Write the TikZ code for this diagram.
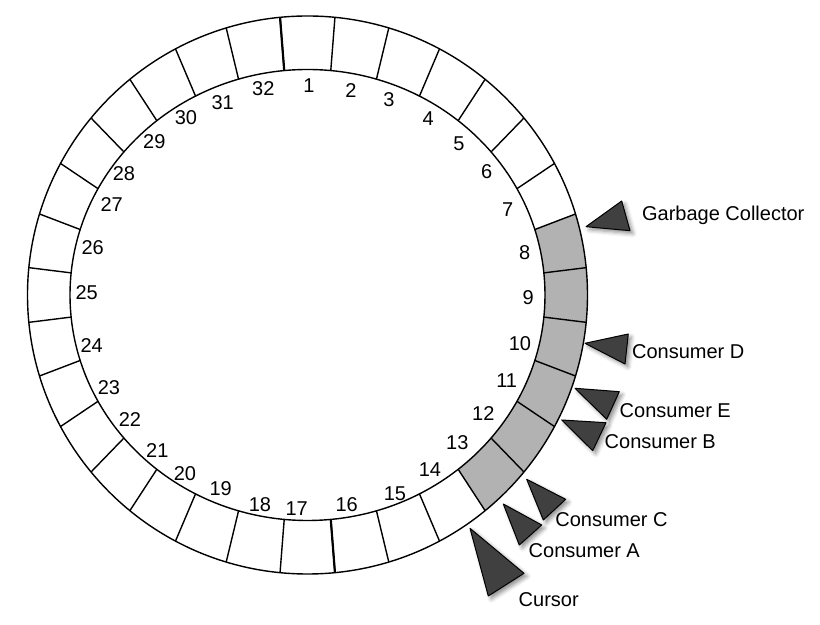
\documentclass[tikz,border=0pt]{standalone}
\usepackage{fontspec}
\setmainfont{Liberation Sans}
\usetikzlibrary{shadows.blur}

\tikzset{
	slotline/.style={line width=0.7pt},
	seamline/.style={line width=1.1pt},
	pointer/.style={fill=black!75, draw=black, line width=0.5pt, line join=round,
		blur shadow={shadow xshift=1.5pt, shadow yshift=-1.5pt, shadow blur radius=2pt, shadow opacity=45}},
	ptrlabel/.style={anchor=base west, inner sep=0pt, font=\fontsize{10pt}{12pt}\selectfont},
	slotnum/.style={inner sep=0pt, font=\fontsize{10pt}{12pt}\selectfont},
}

\begin{document}
\begin{tikzpicture}[x=0.5pt, y=0.5pt]
		\useasboundingbox (-307.5, -330) rectangle (512.5, 295);

		% slots 8 to 13 in use
		\fill[black!30] (16.875:280 and 279) arc[start angle=16.875, end angle=-50.625, x radius=280, y radius=279]
			-- (-50.625:237.5 and 225.5) arc[start angle=-50.625, end angle=16.875, x radius=237.5, y radius=225.5] -- cycle;

		\draw[slotline] (0, 0) ellipse[x radius=280, y radius=279];
		\draw[slotline] (0, 0) ellipse[x radius=237.5, y radius=225.5];

		\foreach \i in {1,...,32} {
			\pgfmathsetmacro\b{95.625-(\i-1)*11.25}
			\draw[slotline] (\b:237.5 and 225.5) -- (\b:280 and 279);
		}
		\draw[seamline] (95.625:237.5 and 225.5) -- (95.625:280 and 279);
		\draw[seamline] (-84.375:237.5 and 225.5) -- (-84.375:280 and 279);

		% slot numbers
		\foreach \i/\x/\y in {1/1.5/209, 2/43.5/204.3, 3/81.5/195.7, 4/120.8/176,
				5/151.5/151, 6/179.2/123.3, 7/200.2/85, 8/217.2/42,
				9/220.8/-2.7, 10/212.5/-49, 11/199.2/-85.7, 12/175.8/-119,
				13/149.8/-147.3, 14/122.5/-175, 15/87.5/-199, 16/39.2/-210,
				17/-10.8/-214, 18/-47.5/-210, 19/-86.8/-194, 20/-122.5/-179,
				21/-150.2/-156, 22/-177.5/-124.3, 23/-198.5/-92.7, 24/-215.8/-51,
				25/-220.8/2.3, 26/-214.8/47.3, 27/-195.8/90, 28/-183.5/121,
				29/-153.2/153.3, 30/-121.5/177.3, 31/-84.8/192.3, 32/-44.2/206.7}
			\node[slotnum] (n\i) at (\x, \y) {\i};

		\draw[pointer] (278.5, 68.3) -- (314.2, 94) -- (322.5, 64.3) -- cycle;
		\draw[pointer] (277.5, -48.3) -- (320.8, -39) -- (317.5, -69) -- cycle;
		\draw[pointer] (267.5, -93.3) -- (311.8, -96.7) -- (299.2, -124.3) -- cycle;
		\draw[pointer] (254.2, -125) -- (298.5, -127.7) -- (285.2, -155.7) -- cycle;
		\draw[pointer] (219.2, -184.3) -- (258.2, -204.3) -- (235.8, -225) -- cycle;
		\draw[pointer] (195.8, -209) -- (234.2, -230) -- (211.8, -250) -- cycle;
		\draw[pointer] (162.5, -233.3) -- (216.5, -278.3) -- (180.8, -301) -- cycle;

		\node[ptrlabel] (gc) at (334.2, 74.5) {Garbage Collector};
		\node[ptrlabel] (cd) at (324.2, -64) {Consumer D};
		\node[ptrlabel] (ce) at (311.8, -122.3) {Consumer E};
		\node[ptrlabel] (cb) at (296.8, -153.3) {Consumer B};
		\node[ptrlabel] (cc) at (247.5, -231.7) {Consumer C};
		\node[ptrlabel] (ca) at (220.8, -262.3) {Consumer A};
		\node[ptrlabel] (cur) at (210.8, -311.7) {Cursor};
	\end{tikzpicture}
\end{document}
